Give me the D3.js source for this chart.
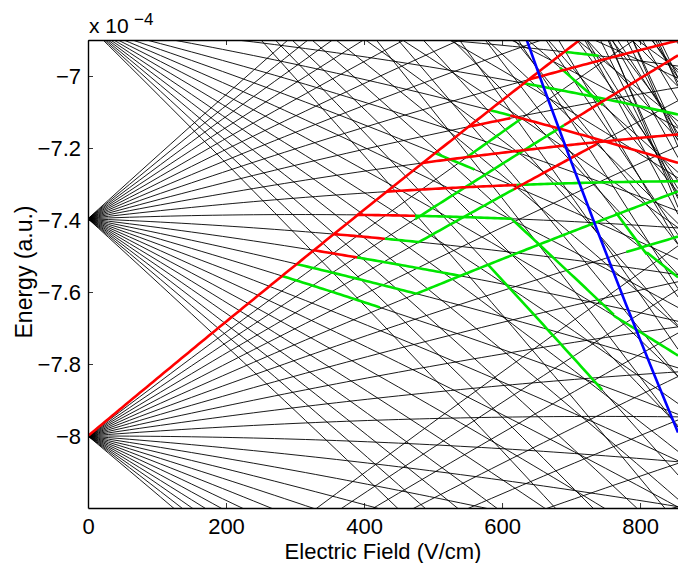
<!DOCTYPE html>
<html>
<head>
<meta charset="utf-8">
<script src="https://cdn.jsdelivr.net/npm/d3@7"></script>
<style>
  html, body { margin: 0; padding: 0; background: #fff; }
  svg { display: block; font-family: "Liberation Sans", Arial, Helvetica, sans-serif; }
</style>
</head>
<body>
<div id="chart"></div>
<script>
const WIDTH = 678;
const HEIGHT = 563;
const MARGIN = { top: 40, right: 0, bottom: 55, left: 88 };

// field axis (V/cm) and energy axis (x 1e-4 a.u.)
const fieldDomain = [0, 855];
const energyDomain = [-8.2, -6.9];
const fieldTicks = [0, 200, 400, 600, 800];
const energyTicks = [-8, -7.8, -7.6, -7.4, -7.2, -7];

// hydrogen Stark manifolds drawn, all with |m| = 2
const manifoldN = [23, 24, 25, 26, 27, 28, 29, 30, 31, 32, 33, 34, 35, 36];
const magneticM = 2;
const FIELD_AU = 1.9447e-10;  // atomic units of field per V/cm
const ENERGY_UNIT = 1e-4;

// classical ionisation limit (field, energy)
const limitCurve = [[620, -6.815], [660, -7.030], [700, -7.237], [740, -7.439], [780, -7.636], [820, -7.827], [855, -7.990]];

// followed states: [n, k, field from, field to]
const redSegments = [
  [25, 22, 0, 855],
  [26, -3, 327, 390],
  [26, -1, 356, 430],
  [26, 1, 391, 474],
  [26, 3, 433, 621],
  [25, 16, 617, 737],
  [26, 5, 485, 855],
  [26, 7, 551, 612],
  [27, -4, 612, 855],
  [26, 9, 638, 855],
  [25, 18, 690, 855]
];
const greenSegments = [
  [26, -7, 281, 423],
  [26, -5, 303, 476],
  [25, 12, 476, 855],
  [26, -3, 390, 540],
  [26, -1, 430, 480],
  [25, 16, 480, 617],
  [26, 1, 474, 615],
  [28, -19, 615, 762],
  [27, -12, 762, 855],
  [25, 18, 474, 690],
  [28, -23, 580, 745],
  [26, 3, 621, 855],
  [27, -4, 582, 612],
  [25, 20, 548, 628],
  [27, -2, 631, 855],
  [27, 0, 690, 740],
  [30, -25, 765, 810],
  [28, -15, 810, 855],
  [25, 10, 780, 855],
  [27, -8, 503, 560],
  [29, -16, 684, 746]
];

// first and second order Stark energy, x 1e-4 a.u.
function starkEnergy(n, k, field) {
  const f = field * FIELD_AU;
  const e = -1 / (2 * n * n) + 1.5 * n * k * f
    - f * f * Math.pow(n, 4) * (17 * n * n - 3 * k * k - 9 * magneticM * magneticM + 19) / 16;
  return e / ENERGY_UNIT;
}

function trace(n, k, f0, f1, step) {
  const fields = d3.range(f0, f1, step).concat([f1]);
  return fields.map(f => [f, starkEnergy(n, k, f)]);
}

const svg = d3.select('#chart').append('svg')
  .attr('width', WIDTH)
  .attr('height', HEIGHT);

const x = d3.scaleLinear().domain(fieldDomain).range([MARGIN.left, WIDTH - MARGIN.right]);
const y = d3.scaleLinear().domain(energyDomain).range([508, MARGIN.top]);

svg.append('clipPath').attr('id', 'plot-clip')
  .append('rect')
  .attr('x', x(fieldDomain[0]))
  .attr('y', y(energyDomain[1]))
  .attr('width', x(fieldDomain[1]) - x(fieldDomain[0]))
  .attr('height', y(energyDomain[0]) - y(energyDomain[1]));

const plot = svg.append('g').attr('clip-path', 'url(#plot-clip)');

// every Stark state of every manifold
const starkLines = [];
manifoldN.forEach(n => {
  const K = n - 1 - magneticM;
  for (let k = -K; k <= K; k += 2) {
    starkLines.push(trace(n, k, fieldDomain[0], fieldDomain[1], 15));
  }
});

const line = d3.line().x(d => x(d[0])).y(d => y(d[1]));

plot.selectAll('path.stark')
  .data(starkLines)
  .enter().append('path')
  .attr('class', 'stark')
  .attr('d', line)
  .attr('fill', 'none')
  .attr('stroke', '#000')
  .attr('stroke-width', 0.9);

plot.selectAll('path.green')
  .data(greenSegments.map(s => trace(s[0], s[1], s[2], s[3], 5)))
  .enter().append('path')
  .attr('class', 'green')
  .attr('d', line)
  .attr('fill', 'none')
  .attr('stroke', '#00e600')
  .attr('stroke-width', 2.6);

plot.selectAll('path.red')
  .data(redSegments.map(s => trace(s[0], s[1], s[2], s[3], 5)))
  .enter().append('path')
  .attr('class', 'red')
  .attr('d', line)
  .attr('fill', 'none')
  .attr('stroke', '#ff0000')
  .attr('stroke-width', 2.6);

plot.append('path')
  .datum(limitCurve)
  .attr('d', d3.line().x(d => x(d[0])).y(d => y(d[1])).curve(d3.curveMonotoneX))
  .attr('fill', 'none')
  .attr('stroke', '#0000ff')
  .attr('stroke-width', 2.6);

// axes, MATLAB style ticks pointing inwards
const fmt = d3.format('~g');

const xAxis = svg.append('g')
  .attr('transform', `translate(0,${y(energyDomain[0])})`)
  .call(d3.axisBottom(x).tickValues(fieldTicks).tickSizeInner(-5).tickSizeOuter(0).tickPadding(10).tickFormat(fmt));

const xAxisTop = svg.append('g')
  .attr('transform', `translate(0,${y(energyDomain[1])})`)
  .call(d3.axisTop(x).tickValues(fieldTicks).tickSizeInner(-5).tickSizeOuter(0).tickFormat(''));

const yAxis = svg.append('g')
  .attr('transform', `translate(${x(fieldDomain[0])},0)`)
  .call(d3.axisLeft(y).tickValues(energyTicks).tickSizeInner(-5).tickSizeOuter(0).tickPadding(7).tickFormat(fmt));

[xAxis, xAxisTop, yAxis].forEach(g => {
  g.select('.domain').attr('stroke', '#000').attr('stroke-width', 1.4);
  g.selectAll('.tick line').attr('stroke', '#000').attr('stroke-width', 0.8);
  g.selectAll('.tick text')
    .attr('fill', '#000')
    .style('font-size', '22px')
    .style('font-family', '"Liberation Sans", Arial, sans-serif');
});

svg.append('text')
  .attr('x', (x(fieldDomain[0]) + WIDTH) / 2)
  .attr('y', 559)
  .attr('text-anchor', 'middle')
  .style('font-size', '22px')
  .text('Electric Field (V/cm)');

svg.append('text')
  .attr('transform', 'translate(32,272) rotate(-90)')
  .attr('text-anchor', 'middle')
  .style('font-size', '23px')
  .text('Energy (a.u.)');

svg.append('text')
  .attr('x', 89)
  .attr('y', 33)
  .style('font-size', '21px')
  .text('x 10');

svg.append('text')
  .attr('x', 134)
  .attr('y', 25)
  .style('font-size', '17px')
  .text('\u22124');
</script>
</body>
</html>
